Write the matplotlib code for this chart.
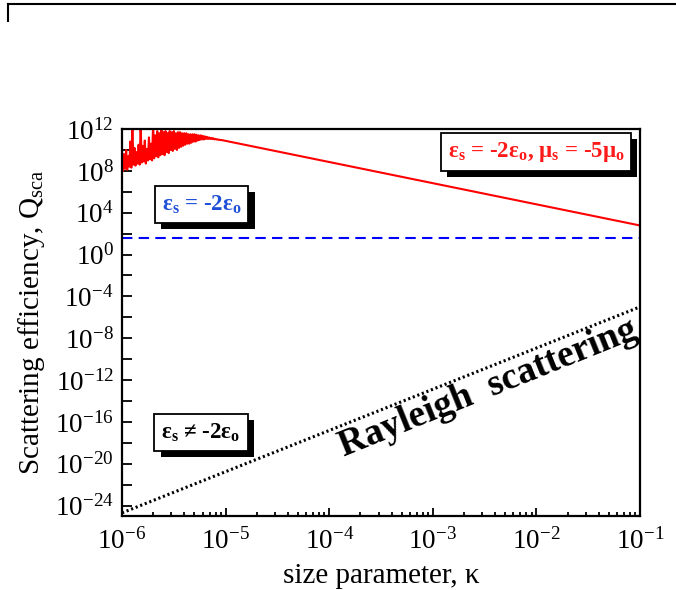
import matplotlib
matplotlib.use('Agg')
import matplotlib.pyplot as plt
import matplotlib.patheffects as pe
from matplotlib.lines import Line2D
from matplotlib.ticker import FixedLocator, FuncFormatter, LogLocator, NullFormatter
import numpy as np

plt.rcParams['font.family'] = ['Liberation Serif', 'DejaVu Serif']
plt.rcParams['mathtext.fontset'] = 'custom'
plt.rcParams['mathtext.rm'] = 'Liberation Serif'
plt.rcParams['mathtext.bf'] = 'Liberation Serif:bold'

# resonant case eps=-2, mu=-5 : noisy part (log10 values)
noisy_logk = [-6.00, -5.99, -5.98, -5.97, -5.96, -5.95, -5.94, -5.93, -5.92, -5.91,
              -5.90, -5.89, -5.88, -5.87, -5.86, -5.85, -5.84, -5.83, -5.82, -5.81,
              -5.80, -5.79, -5.78, -5.77, -5.76, -5.75, -5.74, -5.73, -5.72, -5.71,
              -5.70, -5.69, -5.68, -5.67, -5.66, -5.65, -5.64, -5.63, -5.62, -5.61,
              -5.60, -5.59, -5.58, -5.57, -5.56, -5.55, -5.54, -5.53, -5.52, -5.51,
              -5.50, -5.49, -5.48, -5.47, -5.46, -5.45, -5.44, -5.43, -5.42, -5.41,
              -5.40, -5.39, -5.38, -5.37, -5.36, -5.35, -5.34, -5.33, -5.32, -5.31,
              -5.30, -5.29, -5.28, -5.27, -5.26, -5.25, -5.24, -5.23, -5.22, -5.21,
              -5.20, -5.19, -5.18, -5.17, -5.16, -5.15, -5.14, -5.13, -5.12, -5.11,
              -5.10, -5.09, -5.08, -5.07, -5.06, -5.05, -5.04]
noisy_logq = [9.9, 8.0, 9.6, 8.2, 10.0, 8.1, 9.4, 8.4, 10.8, 8.3,
              12.5, 8.6, 10.2, 8.5, 9.8, 8.7, 10.5, 8.6, 12.5, 8.8,
              10.4, 8.9, 10.9, 8.7, 10.1, 9.0, 11.2, 9.1, 10.6, 9.0,
              12.5, 9.2, 11.4, 9.4, 11.8, 9.3, 11.6, 9.5, 11.9, 9.6,
              11.7, 9.5, 11.8, 9.8, 11.6, 9.7, 11.8, 10.0, 11.7, 9.9,
              11.8, 10.1, 11.6, 10.0, 11.7, 10.2, 11.7, 10.3, 11.6, 10.4,
              11.6, 10.5, 11.6, 10.6, 11.5, 10.6, 11.5, 10.7, 11.5, 10.8,
              11.5, 10.8, 11.45, 10.9, 11.4, 10.95, 11.4, 11.0, 11.35, 11.0,
              11.3, 11.05, 11.25, 11.05, 11.2, 11.05, 11.15, 11.05, 11.12, 11.02,
              11.06, 11.0, 11.02, 10.97, 10.98, 10.94, 10.95]
# smooth decaying part
smooth_k = [1e-1]
smooth_q = [6.0e2]

# eps=-2 : flat level
flat_k = [1e-6, 1e-1]
flat_q = [38.0, 38.0]

# Rayleigh scattering
ray_k = [1e-6, 1e-1]
ray_q = [2.0e-25, 1.0e-5]

red_k = np.concatenate([10**np.array(noisy_logk), smooth_k])
red_q = np.concatenate([10**np.array(noisy_logq), smooth_q])

fig = plt.figure(figsize=(6.76, 5.90), dpi=100)
ax = fig.add_axes([0.1805, 0.1254, 0.7663, 0.6559])

ax.plot(red_k, red_q, color='#ff0000', lw=1.5)
ax.plot(flat_k, flat_q, color='#0000ff', lw=1.5, linestyle=(0, (5, 3)))
ax.plot(ray_k, ray_q, color='black', lw=2.2, linestyle=(0, (0.7, 0.9)))

ax.set_xscale('log')
ax.set_yscale('log')
ax.set_xlim(1e-6, 1e-1)
ax.set_ylim(1e-25, 1e12)

def pow_fmt(v, pos):
    e = int(round(np.log10(v)))
    return r'$\mathregular{10^{%d}}$' % e

ax.xaxis.set_major_locator(LogLocator(base=10, numticks=10))
ax.xaxis.set_minor_locator(LogLocator(base=10, subs=np.arange(2, 10), numticks=20))
ax.xaxis.set_major_formatter(FuncFormatter(pow_fmt))
ax.xaxis.set_minor_formatter(NullFormatter())
ax.yaxis.set_major_locator(FixedLocator([10.0**e for e in range(-24, 13, 4)]))
ax.yaxis.set_minor_locator(FixedLocator([10.0**e for e in range(-22, 12, 4)]))
ax.yaxis.set_major_formatter(FuncFormatter(pow_fmt))
ax.yaxis.set_minor_formatter(NullFormatter())

ax.tick_params(axis='both', which='both', direction='in', top=False, right=False,
               labelsize=19.5, width=1.3)
ax.tick_params(axis='x', which='major', length=6, pad=9)
ax.tick_params(axis='x', which='minor', length=3)
ax.tick_params(axis='y', which='both', length=7, pad=6)
for s in ax.spines.values():
    s.set_linewidth(1.6)

ax.set_xlabel('size parameter, κ', fontsize=21, labelpad=6)
ax.set_ylabel(r'Scattering efficiency, Q$_\mathregular{sca}$', fontsize=21, labelpad=6)

shadow = [pe.withSimplePatchShadow(offset=(4.5, -4.5), shadow_rgbFace='black', alpha=1.0)]

def boxed(x, y, s, color):
    t = ax.text(x, y, s, transform=ax.transAxes, ha='center', va='center',
                fontsize=16.5, fontweight='bold', color=color,
                bbox=dict(boxstyle='square,pad=0.3', facecolor='white',
                          edgecolor='black', linewidth=1.3))
    t.get_bbox_patch().set_path_effects(shadow)
    return t

boxed(0.1535, 0.805, r'ε$_\mathbf{s}$ = -2ε$_\mathbf{o}$', '#1f4fd6')
boxed(0.799, 0.9406, r'ε$_\mathbf{s}$ = -2ε$_\mathbf{o}$, μ$_\mathbf{s}$ = -5μ$_\mathbf{o}$', '#ff1a1a')
boxed(0.1525, 0.2158, r'ε$_\mathbf{s}$ ≠ -2ε$_\mathbf{o}$', 'black')

ax.text(0.7066, 0.33, 'Rayleigh  scattering', transform=ax.transAxes,
        ha='center', va='center', rotation=22, fontsize=27, fontweight='bold')

# frame fragment at the top of the page
fig.add_artist(Line2D([8 / 676, 1.0], [1 - 4 / 590, 1 - 4 / 590],
                      transform=fig.transFigure, color='black', lw=1.5))
fig.add_artist(Line2D([8 / 676, 8 / 676], [1 - 4 / 590, 1 - 21 / 590],
                      transform=fig.transFigure, color='black', lw=1.5))

fig.savefig('out.png', dpi=100)
